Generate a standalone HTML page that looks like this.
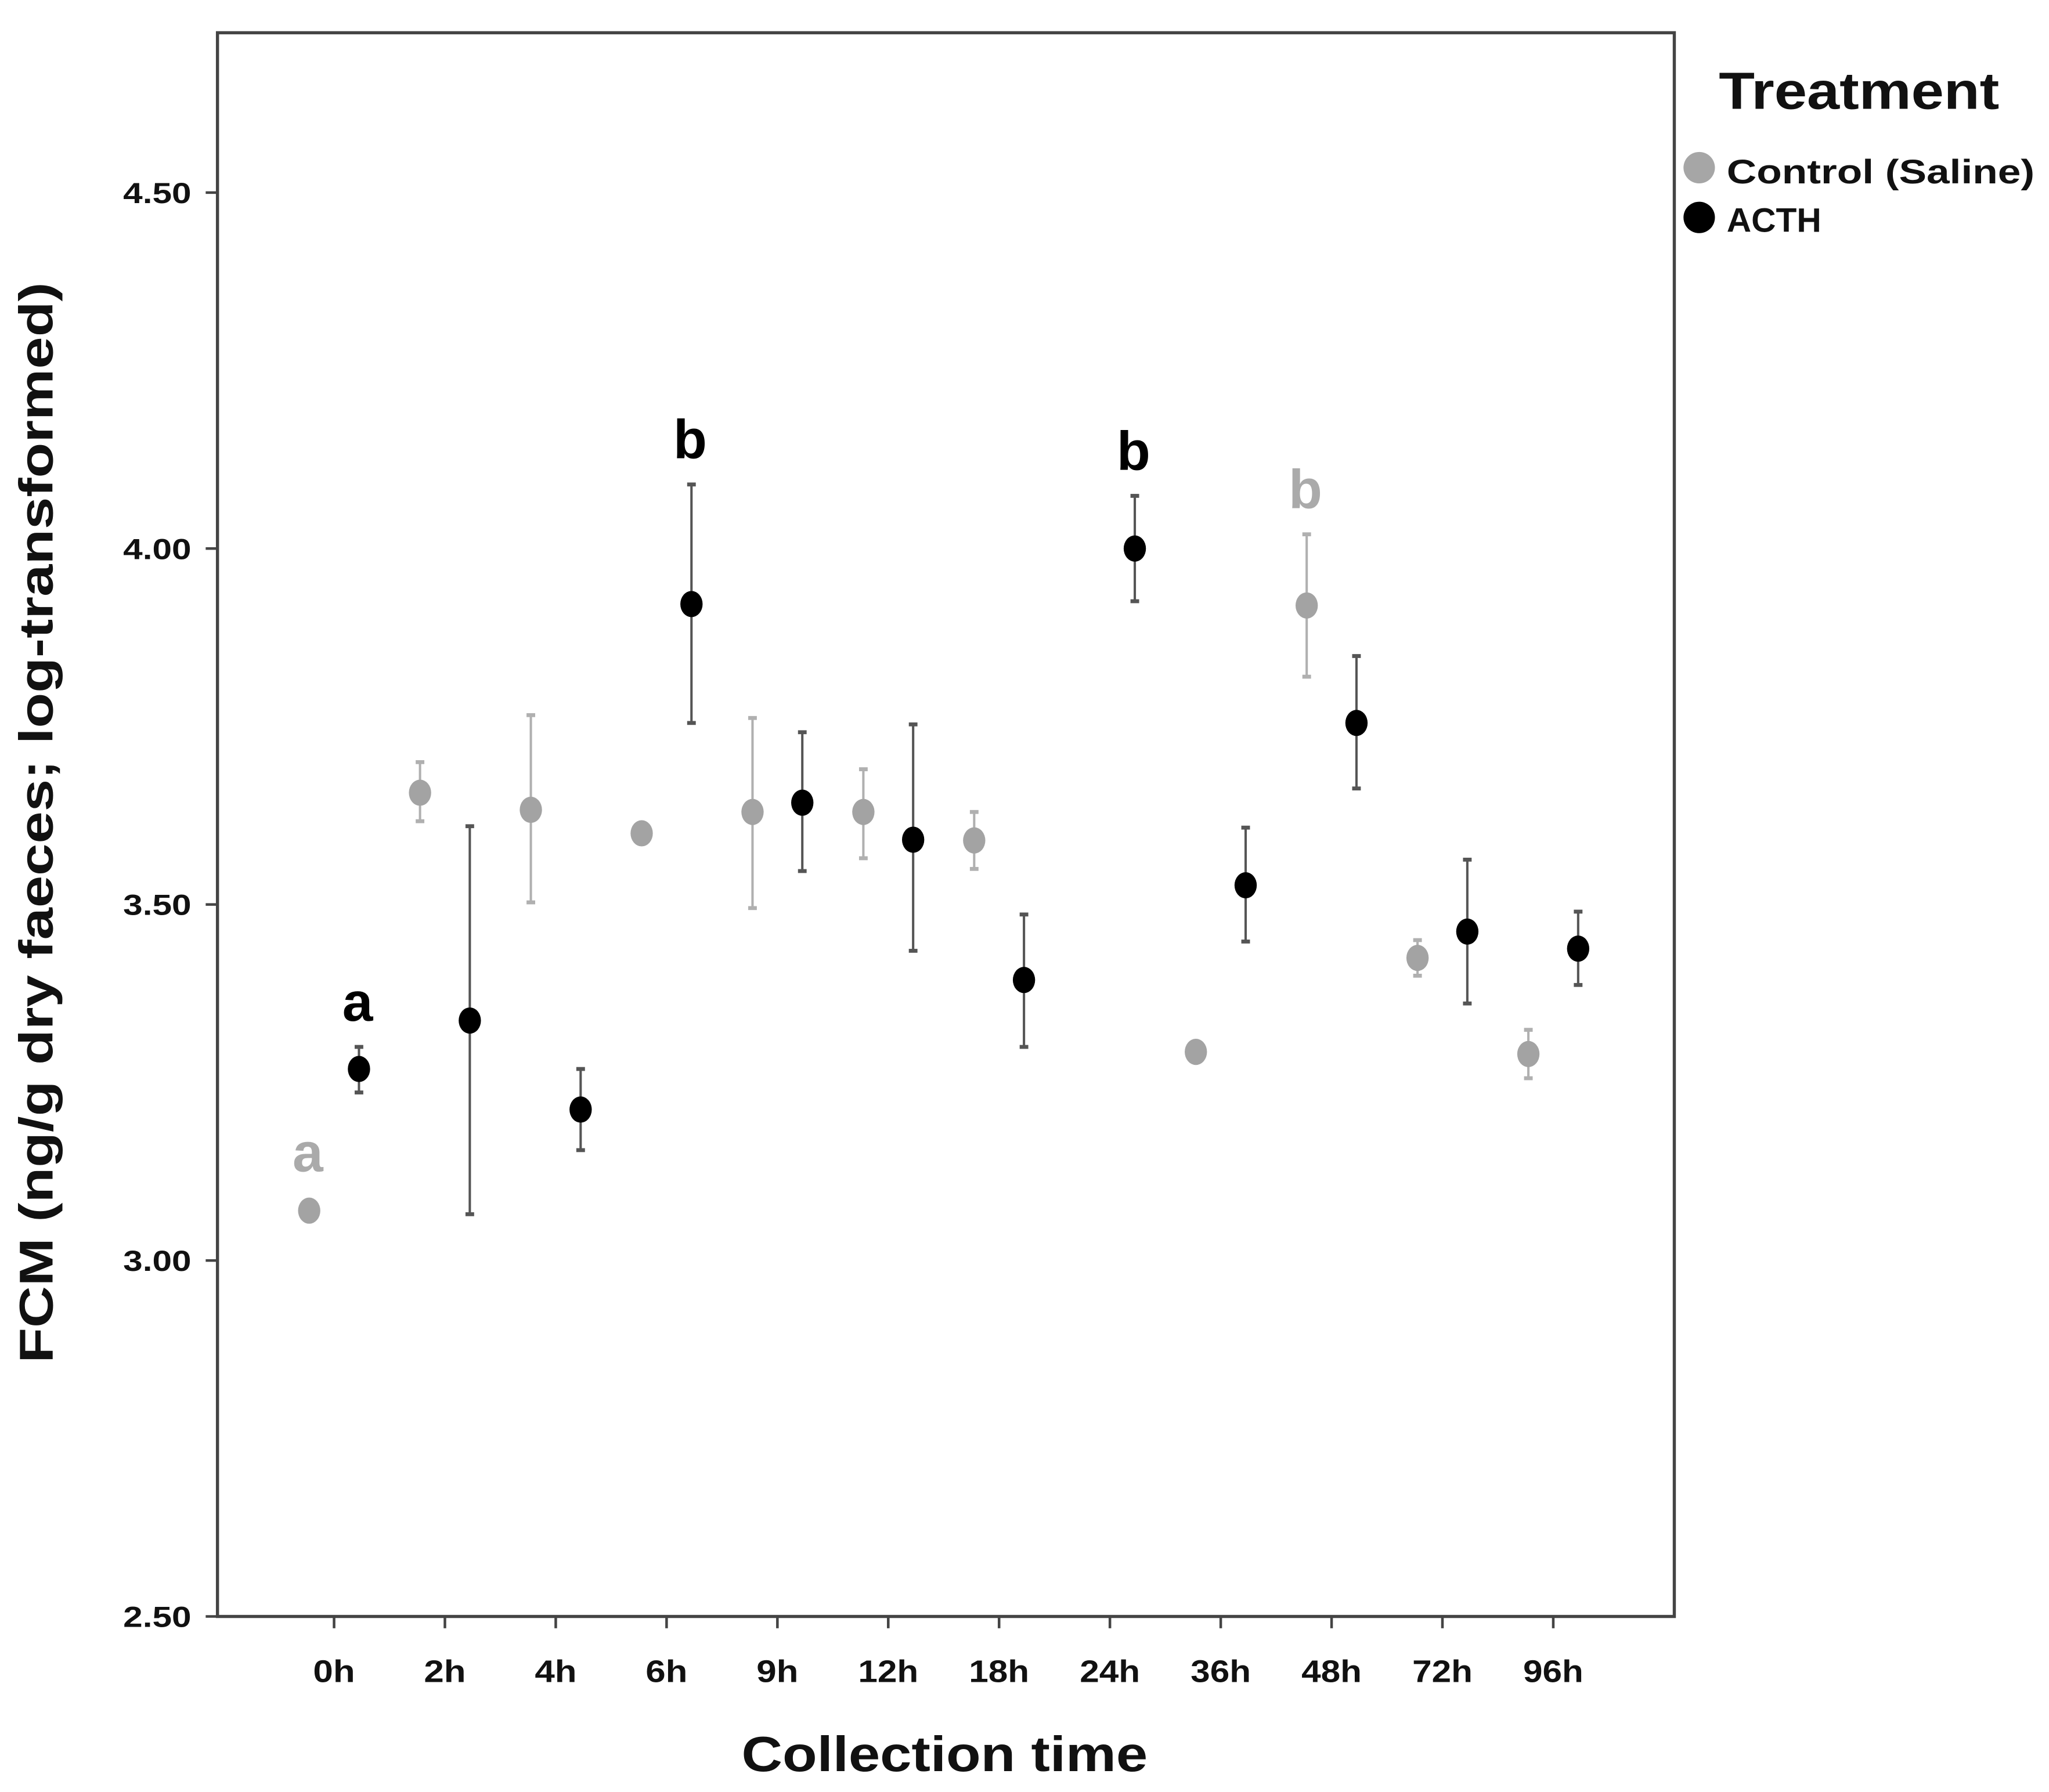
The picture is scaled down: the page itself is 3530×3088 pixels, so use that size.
<!DOCTYPE html>
<html><head><meta charset="utf-8"><style>
html,body{margin:0;padding:0;background:#fff}
svg{display:block}
text{font-family:"Liberation Sans",Arial,sans-serif;font-weight:bold}
</style></head><body>
<svg id="chart" width="3530" height="3088" viewBox="0 0 1564 1368" preserveAspectRatio="none" xmlns="http://www.w3.org/2000/svg">
<rect x="166" y="25" width="1112" height="1209" fill="#fff" stroke="#444" stroke-width="2.4"/>
<g id="axes"></g>
<g id="marks"></g>
<text x="40" y="628" font-size="36" text-anchor="middle" textLength="825" lengthAdjust="spacingAndGlyphs" transform="rotate(-90 40 628)" fill="#111">FCM (ng/g dry faeces; log-transformed)</text>
<text x="721" y="1352" font-size="38" text-anchor="middle" textLength="310" lengthAdjust="spacingAndGlyphs" fill="#111">Collection time</text>
<g>
<text x="1312" y="83" font-size="40" textLength="214" lengthAdjust="spacingAndGlyphs" fill="#111">Treatment</text>
<circle cx="1297" cy="128" r="12" fill="#a6a6a6"/>
<text x="1318" y="140" font-size="26" textLength="235" lengthAdjust="spacingAndGlyphs" fill="#111">Control (Saline)</text>
<circle cx="1297" cy="166" r="12" fill="#000"/>
<text x="1318" y="177" font-size="26" fill="#111">ACTH</text>
</g>
</svg>
<script>
const categories = ["0h","2h","4h","6h","9h","12h","18h","24h","36h","48h","72h","96h"];
const controlMean = [3.07,3.657,3.633,3.60,3.63,3.63,3.59,null,3.293,3.92,3.425,3.29];
const controlHi   = [3.075,3.70,3.766,3.605,3.762,3.69,3.63,null,3.303,4.02,3.45,3.324];
const controlLo   = [3.065,3.617,3.503,3.595,3.495,3.565,3.55,null,3.283,3.82,3.40,3.256];
const acthMean = [3.269,3.337,3.212,3.922,3.643,3.591,3.394,4.00,3.527,3.755,3.462,3.438];
const acthHi   = [3.30,3.61,3.269,4.09,3.742,3.753,3.486,4.074,3.608,3.849,3.563,3.49];
const acthLo   = [3.236,3.065,3.155,3.755,3.547,3.435,3.30,3.926,3.448,3.663,3.361,3.387];
const yTicks = [2.5,3.0,3.5,4.0,4.5];
const yTickLabels = ["2.50","3.00","3.50","4.00","4.50"];
const letters = [
 {cat:"0h", series:"control", text:"a", value:3.07},
 {cat:"0h", series:"acth", text:"a", value:3.30},
 {cat:"6h", series:"acth", text:"b", value:4.09},
 {cat:"24h", series:"acth", text:"b", value:4.074},
 {cat:"48h", series:"control", text:"b", value:4.02}
];
const NS="http://www.w3.org/2000/svg";
function y(v){return 1234-(v-2.5)*543.5;}
function x(i){return 255+i*84.6;}
const OFF=19;
function mk(tag,attrs,parent){const e=document.createElementNS(NS,tag);for(const k in attrs)e.setAttribute(k,attrs[k]);parent.appendChild(e);return e;}
const axes=document.getElementById('axes'), marks=document.getElementById('marks');
yTicks.forEach((t,i)=>{
  const l=mk('line',{x1:157,x2:166,y1:y(t),y2:y(t),stroke:'#444','stroke-width':2},axes);
  
  
  const tx=mk('text',{x:146,y:y(t)+8,'font-size':22,'text-anchor':'end',textLength:52,lengthAdjust:'spacingAndGlyphs',fill:'#111'},axes);
  tx.textContent=yTickLabels[i];
  
  
});
categories.forEach((c,i)=>{
  const l=mk('line',{x1:x(i),x2:x(i),y1:1234,y2:1243,stroke:'#444','stroke-width':2},axes);
  
  
  const tx=mk('text',{x:x(i),y:1284,'font-size':24,'text-anchor':'middle',textLength:c.length*14+4,lengthAdjust:'spacingAndGlyphs',fill:'#111'},axes);
  tx.textContent=c;
  
  
});
function series(mean,hi,lo,dx,fill,errc,name){
  mean.forEach((m,i)=>{
    if(m===null)return;
    const cx=x(i)+dx;
    const g=mk('g',{},marks);
    
    
    mk('line',{x1:cx,x2:cx,y1:y(hi[i]),y2:y(lo[i]),stroke:errc,'stroke-width':1.8},g);
    mk('line',{x1:cx-3.3,x2:cx+3.3,y1:y(hi[i]),y2:y(hi[i]),stroke:errc,'stroke-width':3},g);
    mk('line',{x1:cx-3.3,x2:cx+3.3,y1:y(lo[i]),y2:y(lo[i]),stroke:errc,'stroke-width':3},g);
    mk('ellipse',{cx:cx,cy:y(m),rx:8.5,ry:10,fill:fill},g);
  });
}
series(controlMean,controlHi,controlLo,-OFF,'#a3a3a3','#b0b0b0','control');
series(acthMean,acthHi,acthLo,OFF,'#000','#555','acth');
letters.forEach(L=>{
  const i=categories.indexOf(L.cat);
  const cx=x(i)+(L.series==='acth'?OFF:-OFF);
  const yy=y(L.value)-(L.series==='control'&&L.cat==='0h'?30:20);
  const t=mk('text',{x:cx-1,y:yy,'font-size':42,'text-anchor':'middle',fill:L.series==='acth'?'#000':'#aaa'},marks);
  t.textContent=L.text;
  
  
});
</script>
</body></html>
